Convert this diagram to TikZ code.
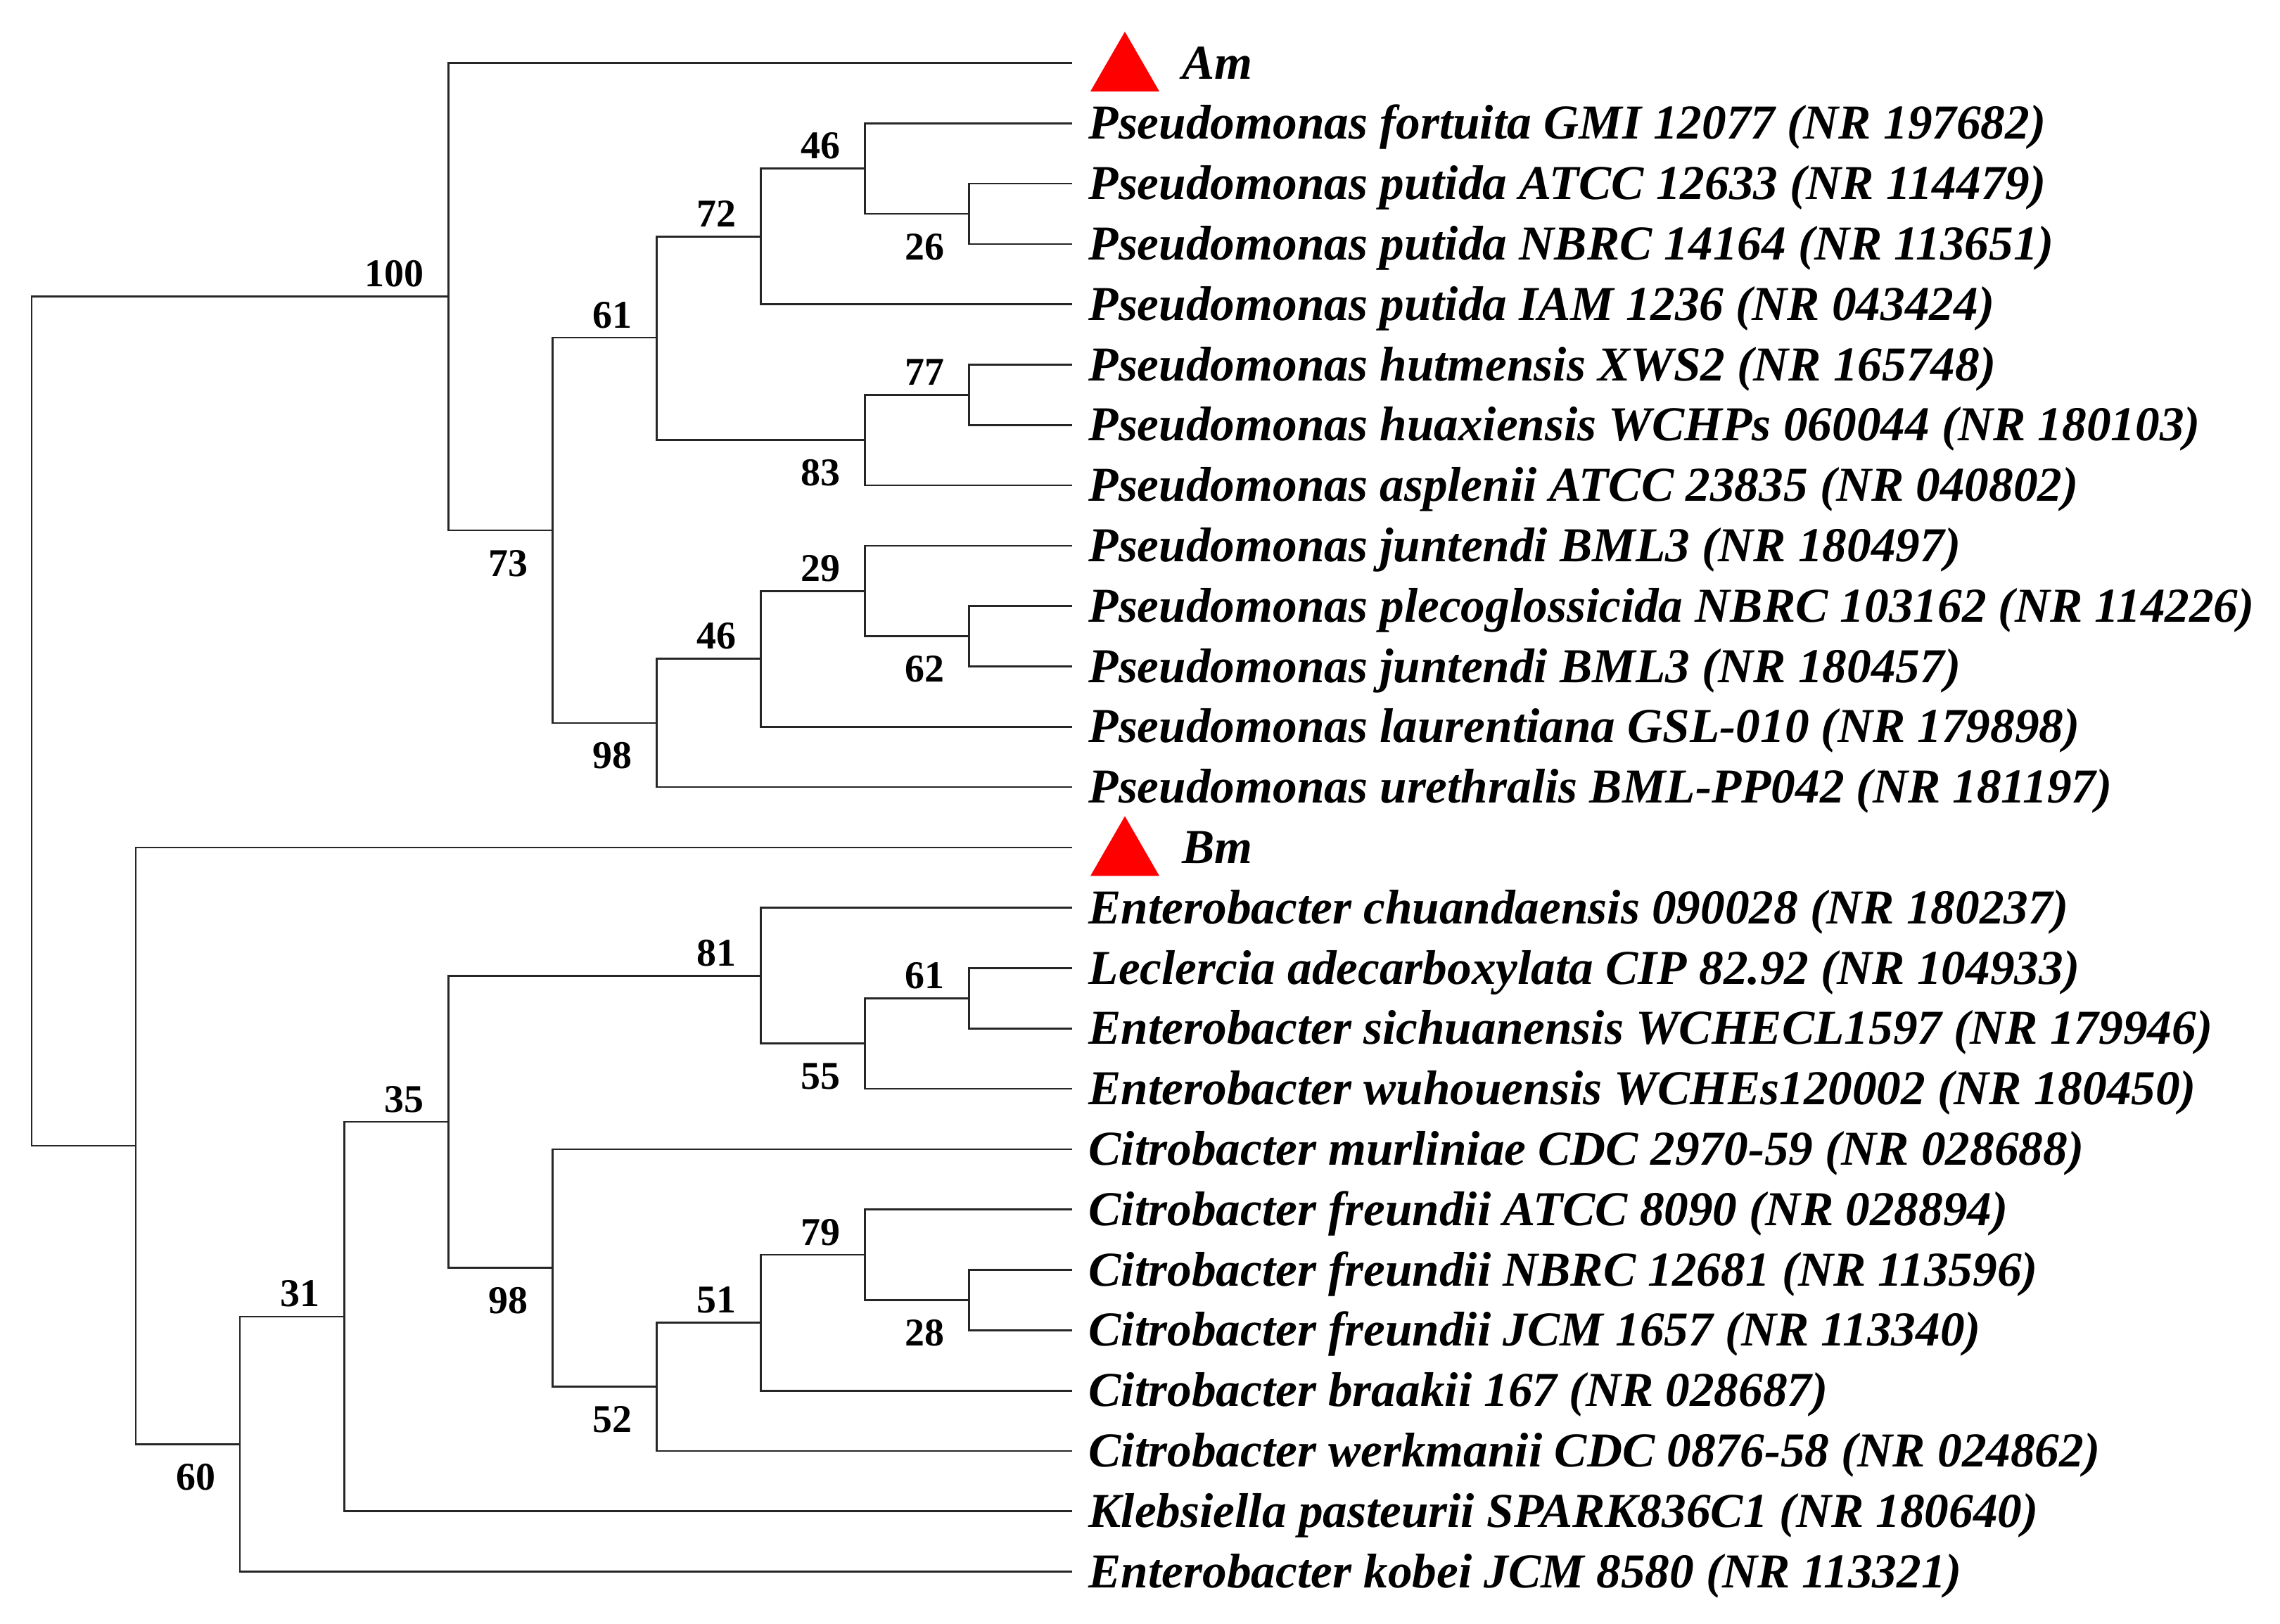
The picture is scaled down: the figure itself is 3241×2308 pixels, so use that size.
\documentclass[tikz,border=0pt]{standalone}
\usepackage{fontspec}
\setmainfont{Liberation Serif}
\begin{document}
\begin{tikzpicture}[x=0.01cm,y=-0.01cm,
  br/.style={draw=black!85,line width=0.78pt},
  leaf/.style={anchor=base west,inner sep=0pt,font=\fontsize{19.7}{20}\selectfont\bfseries\itshape},
  bsa/.style={anchor=base east,inner sep=0pt,font=\fontsize{15.9}{16}\selectfont\bfseries},
  tri/.style={fill=red,draw=none}]
\useasboundingbox (0,0) rectangle (3241,2308);
% levels
\def\LE{1524}
% leaf ends
\foreach \i/\y in {0/89.5,1/175.3,2/261.1,3/346.9,4/432.7,5/518.5,6/604.3,7/690.1,8/775.9,9/861.7,10/947.5,11/1033.3,12/1119.1,13/1204.9,14/1290.7,15/1376.5,16/1462.3,17/1548.1,18/1633.9,19/1719.7,20/1805.5,21/1891.3,22/1977.1,23/2062.9,24/2148.7,25/2234.5}
  \coordinate (l\i) at (\LE,\y);
% internal nodes
\coordinate (root) at (45,1025.4);
\coordinate (n100) at (637.2,421.75);
\coordinate (n73) at (785.3,754.0);
\coordinate (n61) at (933.4,480.0);
\coordinate (n72) at (1081.4,336.2);
\coordinate (n46) at (1229.5,239.65);
\coordinate (n26) at (1377.5,304.0);
\coordinate (n83) at (1229.5,625.75);
\coordinate (n77) at (1377.5,561.4);
\coordinate (n98) at (933.4,1027.95);
\coordinate (n46b) at (1081.4,936.8);
\coordinate (n29) at (1229.5,840.25);
\coordinate (n62) at (1377.5,904.6);
\coordinate (nB) at (193.1,1629.05);
\coordinate (n60) at (341.1,2053.2);
\coordinate (n31) at (489.2,1871.85);
\coordinate (n35) at (637.2,1595.0);
\coordinate (n81) at (1081.4,1387.2);
\coordinate (n55) at (1229.5,1483.75);
\coordinate (n61b) at (1377.5,1419.4);
\coordinate (n98b) at (785.3,1802.8);
\coordinate (n52) at (933.4,1971.75);
\coordinate (n51) at (1081.4,1880.6);
\coordinate (n79) at (1229.5,1784.05);
\coordinate (n28) at (1377.5,1848.4);
% branches
\foreach \p/\c in {root/n100,root/nB,
  n100/l0,n100/n73,n73/n61,n73/n98,n61/n72,n61/n83,n72/n46,n72/l4,n46/l1,n46/n26,n26/l2,n26/l3,
  n83/n77,n83/l7,n77/l5,n77/l6,n98/n46b,n98/l12,n46b/n29,n46b/l11,n29/l8,n29/n62,n62/l9,n62/l10,
  nB/l13,nB/n60,n60/n31,n60/l25,n31/n35,n31/l24,n35/n81,n35/n98b,n81/l14,n81/n55,n55/n61b,n55/l17,
  n61b/l15,n61b/l16,n98b/l18,n98b/n52,n52/n51,n52/l23,n51/n79,n51/l22,n79/l19,n79/n28,n28/l20,n28/l21}
  \draw[br] (\p) |- (\c);
% bootstrap labels (above: upper child, below: lower child)
\foreach \n/\t in {n100/100,n61/61,n72/72,n46/46,n77/77,n46b/46,n29/29,n31/31,n35/35,n81/81,n61b/61,n51/51,n79/79}
  \node[bsa] (b\n) at ([shift={(-34,-14)}]\n) {\t};
\foreach \n/\t in {n73/73,n26/26,n83/83,n98/98,n62/62,n60/60,n55/55,n98b/98,n52/52,n28/28}
  \node[bsa] (b\n) at ([shift={(-34,65)}]\n) {\t};
% triangles for query strains
\fill[tri] ([shift={(26,40.5)}]l0) -- ([shift={(75,-44.5)}]l0) -- ([shift={(124,40.5)}]l0) -- cycle;
\fill[tri] ([shift={(26,40.5)}]l13) -- ([shift={(75,-44.5)}]l13) -- ([shift={(124,40.5)}]l13) -- cycle;
\node[leaf] (t0) at ([shift={(156,22.5)}]l0) {Am};
\node[leaf] (t13) at ([shift={(156,22.5)}]l13) {Bm};
% leaf labels
\foreach \i/\t in {1/Pseudomonas fortuita GMI 12077 (NR 197682),
  2/Pseudomonas putida ATCC 12633 (NR 114479),
  3/Pseudomonas putida NBRC 14164 (NR 113651),
  4/Pseudomonas putida IAM 1236 (NR 043424),
  5/Pseudomonas hutmensis XWS2 (NR 165748),
  6/Pseudomonas huaxiensis WCHPs 060044 (NR 180103),
  7/Pseudomonas asplenii ATCC 23835 (NR 040802),
  8/Pseudomonas juntendi BML3 (NR 180497),
  9/Pseudomonas plecoglossicida NBRC 103162 (NR 114226),
  10/Pseudomonas juntendi BML3 (NR 180457),
  11/Pseudomonas laurentiana GSL-010 (NR 179898),
  12/Pseudomonas urethralis BML-PP042 (NR 181197),
  14/Enterobacter chuandaensis 090028 (NR 180237),
  15/Leclercia adecarboxylata CIP 82.92 (NR 104933),
  16/Enterobacter sichuanensis WCHECL1597 (NR 179946),
  17/Enterobacter wuhouensis WCHEs120002 (NR 180450),
  18/Citrobacter murliniae CDC 2970-59 (NR 028688),
  19/Citrobacter freundii ATCC 8090 (NR 028894),
  20/Citrobacter freundii NBRC 12681 (NR 113596),
  21/Citrobacter freundii JCM 1657 (NR 113340),
  22/Citrobacter braakii 167 (NR 028687),
  23/Citrobacter werkmanii CDC 0876-58 (NR 024862),
  24/Klebsiella pasteurii SPARK836C1 (NR 180640),
  25/Enterobacter kobei JCM 8580 (NR 113321)}
  \node[leaf] (t\i) at ([shift={(23,22.5)}]l\i) {\t};
\end{tikzpicture}
\end{document}
